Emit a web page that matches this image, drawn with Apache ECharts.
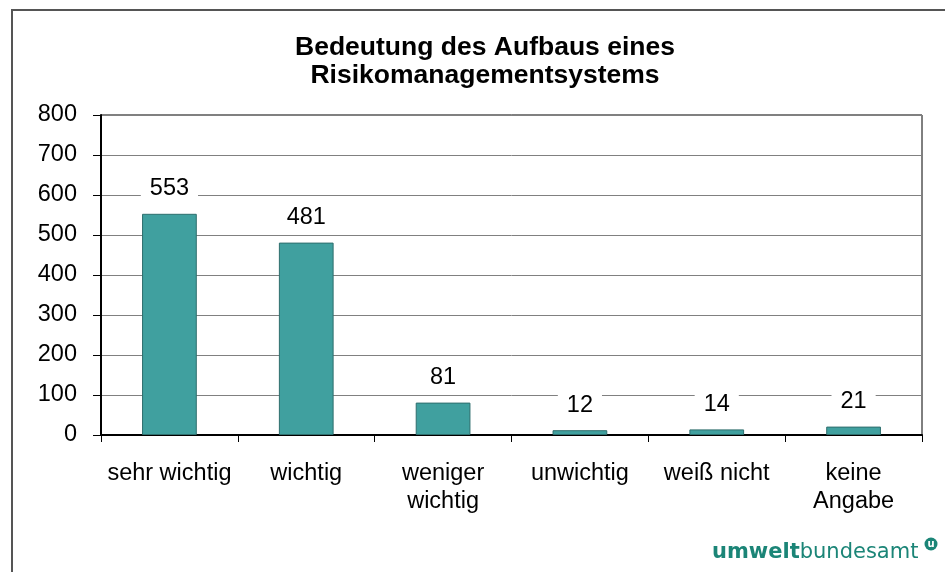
<!DOCTYPE html>
<html>
<head>
<meta charset="utf-8">
<script src="https://cdn.jsdelivr.net/npm/echarts@6/dist/echarts.min.js"></script>
<style>
  html, body { margin: 0; padding: 0; background: #fff; }
  #chart { width: 945px; height: 572px; }
</style>
</head>
<body>
<div id="chart"></div>
<script>
// Antworten und Anzahl der Nennungen
const categories = ['sehr wichtig', 'wichtig', 'weniger\nwichtig', 'unwichtig', 'weiß nicht', 'keine\nAngabe']
const counts = [553, 481, 81, 12, 14, 21]
const yTicks = [0, 100, 200, 300, 400, 500, 600, 700, 800]

const font = 'Liberation Sans, Arial, sans-serif'
const chart = echarts.init(document.getElementById('chart'))

const option = {
  animation: false,
  backgroundColor: '#fff',
  title: {
    text: 'Bedeutung des Aufbaus eines\nRisikomanagementsystems',
    left: 480,
    textAlign: 'center',
    top: 29,
    textStyle: {
      fontFamily: font,
      fontSize: 26.5,
      fontWeight: 'bold',
      color: '#000',
      lineHeight: 28
    }
  },
  grid: {
    left: 101,
    right: 23,
    top: 115,
    bottom: 137,
    show: true,
    borderColor: '#000',
    borderWidth: 1
  },
  xAxis: {
    type: 'category',
    data: categories,
    axisLine: { lineStyle: { color: '#000', width: 2 } },
    axisTick: { show: true, length: 7, lineStyle: { color: '#000', width: 1 } },
    axisLabel: {
      fontFamily: font,
      fontSize: 23.5,
      color: '#000',
      margin: 25,
      lineHeight: 28,
      interval: 0
    }
  },
  yAxis: {
    type: 'value',
    min: 0,
    max: 800,
    interval: 100,
    axisLine: { show: true, lineStyle: { color: '#000', width: 2 } },
    axisTick: { show: true, length: 8, lineStyle: { color: '#000', width: 1 } },
    splitLine: { lineStyle: { color: '#808080', width: 1 } },
    axisLabel: {
      fontFamily: font,
      fontSize: 23.5,
      color: '#000',
      margin: 24,
      formatter: v => (yTicks.includes(v) ? String(v) : '')
    }
  },
  series: [
    {
      type: 'bar',
      data: counts,
      barWidth: '40%',
      itemStyle: {
        color: '#40a09f',
        borderColor: '#2e6e6d',
        borderWidth: 1
      },
      label: {
        show: true,
        position: 'top',
        distance: 11,
        fontFamily: font,
        fontSize: 23.5,
        color: '#000',
        backgroundColor: '#fff',
        padding: [2, 9]
      }
    }
  ],
  graphic: [
    {
      type: 'rect',
      shape: { x: 12, y: 10, width: 960, height: 600 },
      style: { fill: 'none', stroke: '#555', lineWidth: 2 },
      silent: true
    },
    {
      type: 'text',
      left: 712,
      top: 542,
      style: {
        text: '{b|umwelt}{n|bundesamt}',
        rich: {
          b: { fontFamily: 'DejaVu Sans, sans-serif', fontSize: 21, fontWeight: 'bold', fill: '#1b8577' },
          n: { fontFamily: 'DejaVu Sans, sans-serif', fontSize: 21, fill: '#1b8577' }
        }
      }
    },
    {
      type: 'circle',
      shape: { cx: 931, cy: 544, r: 6.5 },
      style: { fill: '#1b8577' }
    },
    {
      type: 'text',
      x: 931,
      y: 544,
      style: {
        text: 'u',
        fontFamily: 'DejaVu Sans, sans-serif',
        fontSize: 10,
        fontWeight: 'bold',
        fill: '#fff',
        align: 'center',
        verticalAlign: 'middle'
      }
    }
  ]
}

chart.setOption(option)
</script>
</body>
</html>
